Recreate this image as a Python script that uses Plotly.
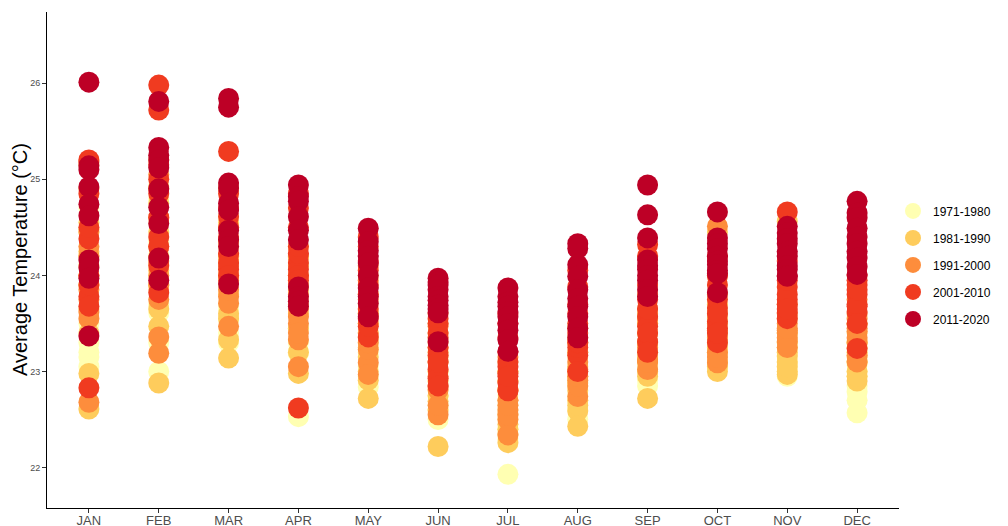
import plotly.graph_objects as go

months = ["JAN", "FEB", "MAR", "APR", "MAY", "JUN", "JUL", "AUG", "SEP", "OCT", "NOV", "DEC"]
decades = ["1971-1980", "1981-1990", "1991-2000", "2001-2010", "2011-2020"]
colors = ["#FFFFB2", "#FECC5C", "#FD8D3C", "#F03B20", "#BD0026"]

# Monthly average temperatures, 10 years per decade per month
t_1971 = {
    "JAN": [23.20, 23.15, 23.30, 24.45, 24.70, 23.05, 23.50, 23.90, 24.20, 24.00],
    "FEB": [23.00, 23.61, 24.11, 24.35, 23.85, 24.55, 23.30, 24.80, 24.00, 23.70],
    "MAR": [23.54, 24.92, 23.70, 23.90, 24.20, 23.40, 24.60, 23.30, 24.05, 23.65],
    "APR": [23.19, 22.53, 23.30, 23.60, 23.90, 24.10, 23.45, 23.75, 24.00, 23.20],
    "MAY": [22.84, 23.05, 23.30, 23.50, 23.70, 23.90, 23.20, 22.95, 23.40, 23.60],
    "JUN": [22.74, 22.50, 22.80, 23.00, 23.20, 22.65, 22.90, 23.35, 23.10, 22.60],
    "JUL": [21.93, 22.30, 22.50, 22.65, 22.80, 22.90, 22.40, 22.60, 23.00, 22.75],
    "AUG": [23.48, 22.60, 22.75, 22.90, 23.00, 23.15, 22.70, 22.85, 23.30, 22.50],
    "SEP": [22.91, 23.00, 23.20, 23.40, 23.10, 22.85, 23.30, 23.50, 23.05, 23.60],
    "OCT": [23.05, 23.20, 23.35, 23.50, 23.15, 23.65, 23.80, 23.30, 23.10, 23.45],
    "NOV": [22.95, 23.05, 23.15, 23.20, 23.30, 23.10, 23.25, 23.00, 23.35, 23.40],
    "DEC": [22.79, 22.57, 23.07, 22.85, 23.00, 23.20, 23.10, 22.95, 23.30, 22.70],
}
t_1981 = {
    "JAN": [22.61, 22.98, 24.48, 25.15, 24.55, 23.40, 23.65, 24.10, 23.90, 24.25],
    "FEB": [22.88, 23.47, 24.92, 24.20, 23.65, 24.45, 24.75, 25.20, 23.90, 24.05],
    "MAR": [23.14, 23.33, 23.60, 24.90, 24.00, 23.80, 24.30, 23.55, 24.55, 24.15],
    "APR": [22.98, 24.18, 23.45, 23.70, 24.10, 23.20, 23.85, 23.60, 24.30, 24.00],
    "MAY": [22.72, 22.91, 23.15, 23.35, 23.60, 23.80, 23.00, 23.50, 24.00, 23.25],
    "JUN": [22.22, 22.69, 23.40, 22.75, 23.00, 23.15, 22.90, 23.50, 22.60, 23.25],
    "JUL": [22.26, 22.81, 22.40, 22.55, 22.70, 22.90, 23.00, 22.45, 22.35, 23.10],
    "AUG": [22.59, 22.43, 22.70, 22.80, 22.95, 23.05, 23.20, 22.65, 23.35, 22.88],
    "SEP": [22.72, 22.95, 23.10, 23.30, 23.50, 23.20, 23.00, 23.60, 23.40, 23.15],
    "OCT": [23.00, 23.10, 23.25, 23.40, 23.55, 24.45, 23.70, 23.20, 23.05, 23.30],
    "NOV": [23.16, 22.97, 24.56, 23.10, 23.25, 23.30, 23.00, 23.40, 23.20, 23.05],
    "DEC": [22.90, 23.20, 23.30, 23.00, 23.40, 23.10, 23.50, 23.15, 23.25, 22.95],
}
t_1991 = {
    "JAN": [22.68, 23.55, 23.62, 23.85, 24.00, 24.20, 24.45, 24.30, 23.75, 24.90],
    "FEB": [23.75, 23.36, 23.19, 24.00, 24.30, 24.90, 24.15, 23.90, 24.60, 25.05],
    "MAR": [23.78, 23.47, 23.71, 24.20, 23.95, 24.50, 24.10, 23.85, 24.35, 24.00],
    "APR": [23.50, 23.33, 23.05, 23.57, 24.00, 23.80, 23.65, 24.20, 23.90, 23.40],
    "MAY": [23.09, 22.97, 23.23, 23.40, 23.60, 23.75, 23.30, 23.95, 24.10, 23.50],
    "JUN": [23.47, 22.81, 22.55, 22.85, 23.10, 23.30, 22.65, 23.60, 22.95, 23.20],
    "JUL": [22.60, 22.50, 22.34, 22.70, 22.80, 23.00, 22.90, 23.15, 22.55, 22.65],
    "AUG": [23.02, 22.91, 22.74, 23.10, 23.20, 22.85, 23.30, 23.45, 23.00, 22.95],
    "SEP": [23.12, 23.02, 23.25, 23.40, 23.55, 23.65, 23.30, 23.80, 23.50, 23.10],
    "OCT": [24.51, 23.09, 23.43, 23.20, 23.60, 23.80, 23.35, 23.15, 24.00, 23.50],
    "NOV": [23.43, 23.31, 23.50, 23.40, 23.60, 23.35, 23.70, 23.25, 23.55, 23.45],
    "DEC": [23.49, 23.17, 23.42, 23.60, 23.30, 23.55, 23.75, 23.35, 23.10, 23.45],
}
t_2001 = {
    "JAN": [25.20, 24.38, 23.78, 23.68, 22.83, 24.85, 24.50, 24.00, 23.90, 25.18],
    "FEB": [25.98, 25.72, 24.40, 23.82, 24.85, 24.60, 25.00, 24.30, 24.10, 25.15],
    "MAR": [25.29, 24.61, 24.23, 24.06, 24.13, 24.85, 24.50, 24.00, 24.40, 24.70],
    "APR": [24.13, 24.06, 24.23, 22.62, 24.70, 24.00, 24.50, 24.30, 24.85, 23.95],
    "MAY": [23.36, 23.47, 23.90, 24.05, 24.30, 23.65, 24.40, 23.80, 24.15, 23.55],
    "JUN": [23.17, 23.02, 22.93, 23.25, 23.40, 23.55, 22.85, 23.10, 23.50, 23.35],
    "JUL": [23.05, 22.88, 22.98, 23.20, 23.35, 23.10, 22.80, 23.50, 23.60, 22.95],
    "AUG": [23.17, 23.88, 23.25, 23.40, 23.60, 23.00, 23.70, 23.30, 24.05, 23.50],
    "SEP": [24.32, 23.57, 23.47, 23.31, 23.65, 23.90, 23.40, 24.20, 23.75, 23.20],
    "OCT": [23.66, 23.52, 23.30, 23.90, 23.75, 24.00, 23.45, 24.20, 23.60, 23.40],
    "NOV": [24.66, 23.88, 23.75, 23.61, 23.70, 23.80, 23.95, 24.15, 23.55, 23.65],
    "DEC": [23.80, 23.68, 23.62, 23.24, 23.90, 24.00, 23.70, 23.50, 23.95, 23.85],
}
t_2011 = {
    "JAN": [26.01, 25.14, 25.10, 24.92, 24.74, 24.62, 24.16, 24.08, 23.97, 23.37],
    "FEB": [25.81, 25.33, 25.25, 25.20, 25.12, 24.90, 24.71, 24.54, 24.18, 23.95],
    "MAR": [25.84, 25.75, 24.96, 24.91, 24.75, 24.68, 24.47, 24.37, 24.30, 23.91],
    "APR": [24.94, 24.82, 24.77, 24.61, 24.47, 24.37, 23.88, 23.78, 23.73, 23.68],
    "MAY": [24.49, 24.35, 24.26, 24.20, 24.13, 24.00, 23.87, 23.78, 23.71, 23.57],
    "JUN": [23.97, 23.93, 23.90, 23.85, 23.78, 23.74, 23.69, 23.65, 23.61, 23.31],
    "JUL": [23.87, 23.78, 23.72, 23.68, 23.62, 23.57, 23.50, 23.43, 23.33, 23.21],
    "AUG": [24.33, 24.28, 24.11, 23.99, 23.85, 23.76, 23.68, 23.57, 23.45, 23.35],
    "SEP": [24.94, 24.63, 24.39, 24.16, 24.10, 24.06, 24.00, 23.95, 23.85, 23.78],
    "OCT": [24.66, 24.39, 24.33, 24.28, 24.20, 24.15, 24.11, 24.05, 24.02, 23.82],
    "NOV": [24.51, 24.44, 24.38, 24.33, 24.25, 24.20, 24.10, 24.06, 24.00, 23.99],
    "DEC": [24.77, 24.65, 24.60, 24.49, 24.40, 24.33, 24.25, 24.18, 24.09, 24.01],
}
series = [t_1971, t_1981, t_1991, t_2001, t_2011]

fig = go.Figure()
for name, col, data in zip(decades, colors, series):
    xs, ys = [], []
    for m in months:
        for v in data[m]:
            xs.append(m)
            ys.append(v)
    fig.add_trace(go.Scatter(
        x=xs, y=ys, mode="markers", name=name, legendgroup=name,
        marker=dict(color=col, size=21, line=dict(width=0), opacity=1),
        hovertemplate="%{x}: %{y:.2f}°C<extra>" + name + "</extra>",
    ))

# page body has an 8px margin, so the figure is drawn 8px smaller and offset
W, H = 1000, 518
ML, MR, MT, MB = 39, 0, 4, 18
plot_right = 891
PW = W - ML - MR
dom_end = (plot_right - ML) / PW

fig.update_layout(
    width=W, height=H,
    paper_bgcolor="white", plot_bgcolor="white",
    margin=dict(l=ML, r=MR, t=MT, b=MB, autoexpand=False),
    font=dict(family="Liberation Sans, Arial, sans-serif", color="black"),
    showlegend=True,
    legend=dict(
        x=(885 - ML) / PW, y=0.49, xanchor="left", yanchor="middle",
        font=dict(size=12, color="black"),
        itemsizing="trace",
        tracegroupgap=8,
        bgcolor="rgba(0,0,0,0)",
    ),
    annotations=[dict(
        text="Average Temperature (°C)", textangle=-90,
        xref="paper", yref="paper", x=(12 - ML) / PW, y=0.5,
        xanchor="center", yanchor="middle", showarrow=False,
        font=dict(size=20, color="black"),
    )],
)
fig.update_xaxes(
    type="category", categoryorder="array", categoryarray=months,
    range=[-0.6, 11.6], domain=[0, dom_end], automargin=False,
    showline=True, linecolor="black", linewidth=1,
    ticks="outside", ticklen=4, tickcolor="#333333",
    ticklabelstandoff=-4,
    tickfont=dict(size=13, color="#4D4D4D"),
    showgrid=False, zeroline=False,
)
fig.update_yaxes(
    range=[21.58, 26.74], automargin=False,
    tickvals=[22, 23, 24, 25, 26],
    showline=True, linecolor="black", linewidth=1,
    ticks="outside", ticklen=4, tickcolor="#333333",
    tickfont=dict(size=9, color="#4D4D4D"),
    showgrid=False, zeroline=False,
)

fig.write_html("out.html")
